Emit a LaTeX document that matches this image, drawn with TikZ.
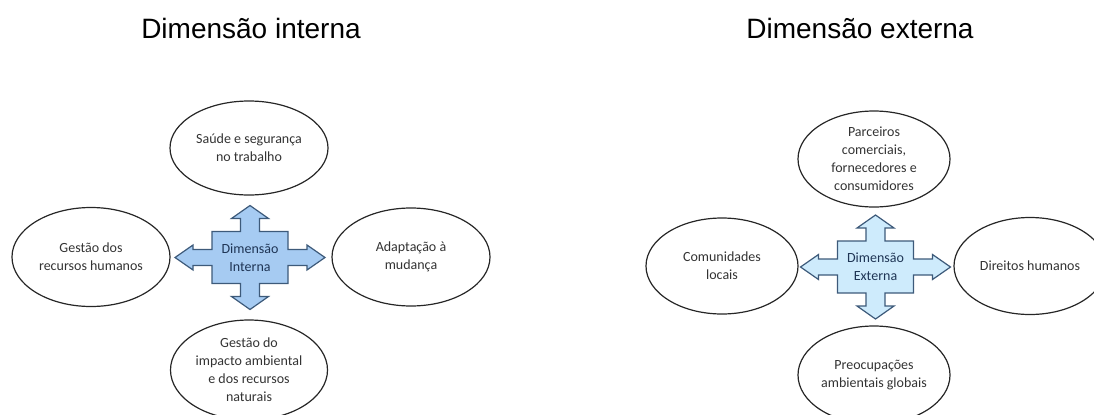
\documentclass[tikz,border=0pt]{standalone}
\usepackage{fontspec}
\setmainfont{Carlito}
\newfontfamily\titlefont{Liberation Sans}
\usetikzlibrary{shapes.geometric}
\definecolor{txtgray}{HTML}{333333}
\definecolor{crossline}{HTML}{3D5A7A}
\definecolor{fillint}{HTML}{A6CBF2}
\definecolor{fillext}{HTML}{CEEBFC}
\definecolor{crosstxt}{HTML}{1F3555}
\tikzset{
  ell/.style 2 args={ellipse, draw=black!85, line width=0.9pt,
    minimum width=#1*0.75pt, minimum height=#2*0.75pt, inner sep=-12pt,
    align=center, text=txtgray, font=\fontsize{10.5pt}{13.5pt}\selectfont},
  ttl/.style={font=\titlefont\fontsize{21pt}{25pt}\selectfont, text=black, anchor=base},
  ctxt/.style={align=center, text=crosstxt, font=\fontsize{10.5pt}{13.5pt}\selectfont},
  pics/crossarrow/.style={code={
    \draw[draw=crossline, line width=0.9pt, line join=miter, fill=#1]
      (0,-52) -- (18.5,-39) -- (9.5,-39) -- (9.5,-26) -- (38,-26) -- (38,-8)
      -- (57,-8) -- (57,-12.5) -- (75,0) -- (57,12.5) -- (57,8) -- (38,8)
      -- (38,26) -- (9.5,26) -- (9.5,39) -- (18.5,39) -- (0,52) -- (-18.5,39)
      -- (-9.5,39) -- (-9.5,26) -- (-38,26) -- (-38,8) -- (-57,8) -- (-57,12.5)
      -- (-75,0) -- (-57,-12.5) -- (-57,-8) -- (-38,-8) -- (-38,-26) -- (-9.5,-26)
      -- (-9.5,-39) -- (-18.5,-39) -- cycle;
  }}
}
\begin{document}
\begin{tikzpicture}[x=0.75pt, y=-0.75pt]
\useasboundingbox (0,0) rectangle (1094,414);
\clip (0,0) rectangle (1094,414);

% titles
\node[ttl] (t1) at (251,38) {Dimensão interna};
\node[ttl] (t2) at (860,38) {Dimensão externa};

% internal dimension
\pic at (250,257.5) {crossarrow=fillint};
\node[ctxt] (ci) at (250,257.5) {Dimensão\\Interna};
\node[ell={158}{94}] (i1) at (249,148) {Saúde e segurança\\no trabalho};
\node[ell={158}{99}] (i2) at (91,257) {Gestão dos\\recursos humanos};
\node[ell={158}{98}] (i3) at (411,257) {Adaptação à\\mudança};
\node[ell={157}{100}] (i4) at (249,370) {Gestão do\\impacto ambiental\\e dos recursos\\naturais};

% external dimension
\pic at (875.5,267) {crossarrow=fillext};
\node[ctxt] (ce) at (875.5,267) {Dimensão\\Externa};
\node[ell={152}{96}] (e1) at (874,159) {Parceiros\\comerciais,\\fornecedores e\\consumidores};
\node[ell={152}{96}] (e2) at (722,266) {Comunidades\\locais};
\node[ell={152}{97}] (e3) at (1030,266) {Direitos humanos};
\node[ell={152}{98}] (e4) at (874,375) {Preocupações\\ambientais globais};
\end{tikzpicture}
\end{document}
